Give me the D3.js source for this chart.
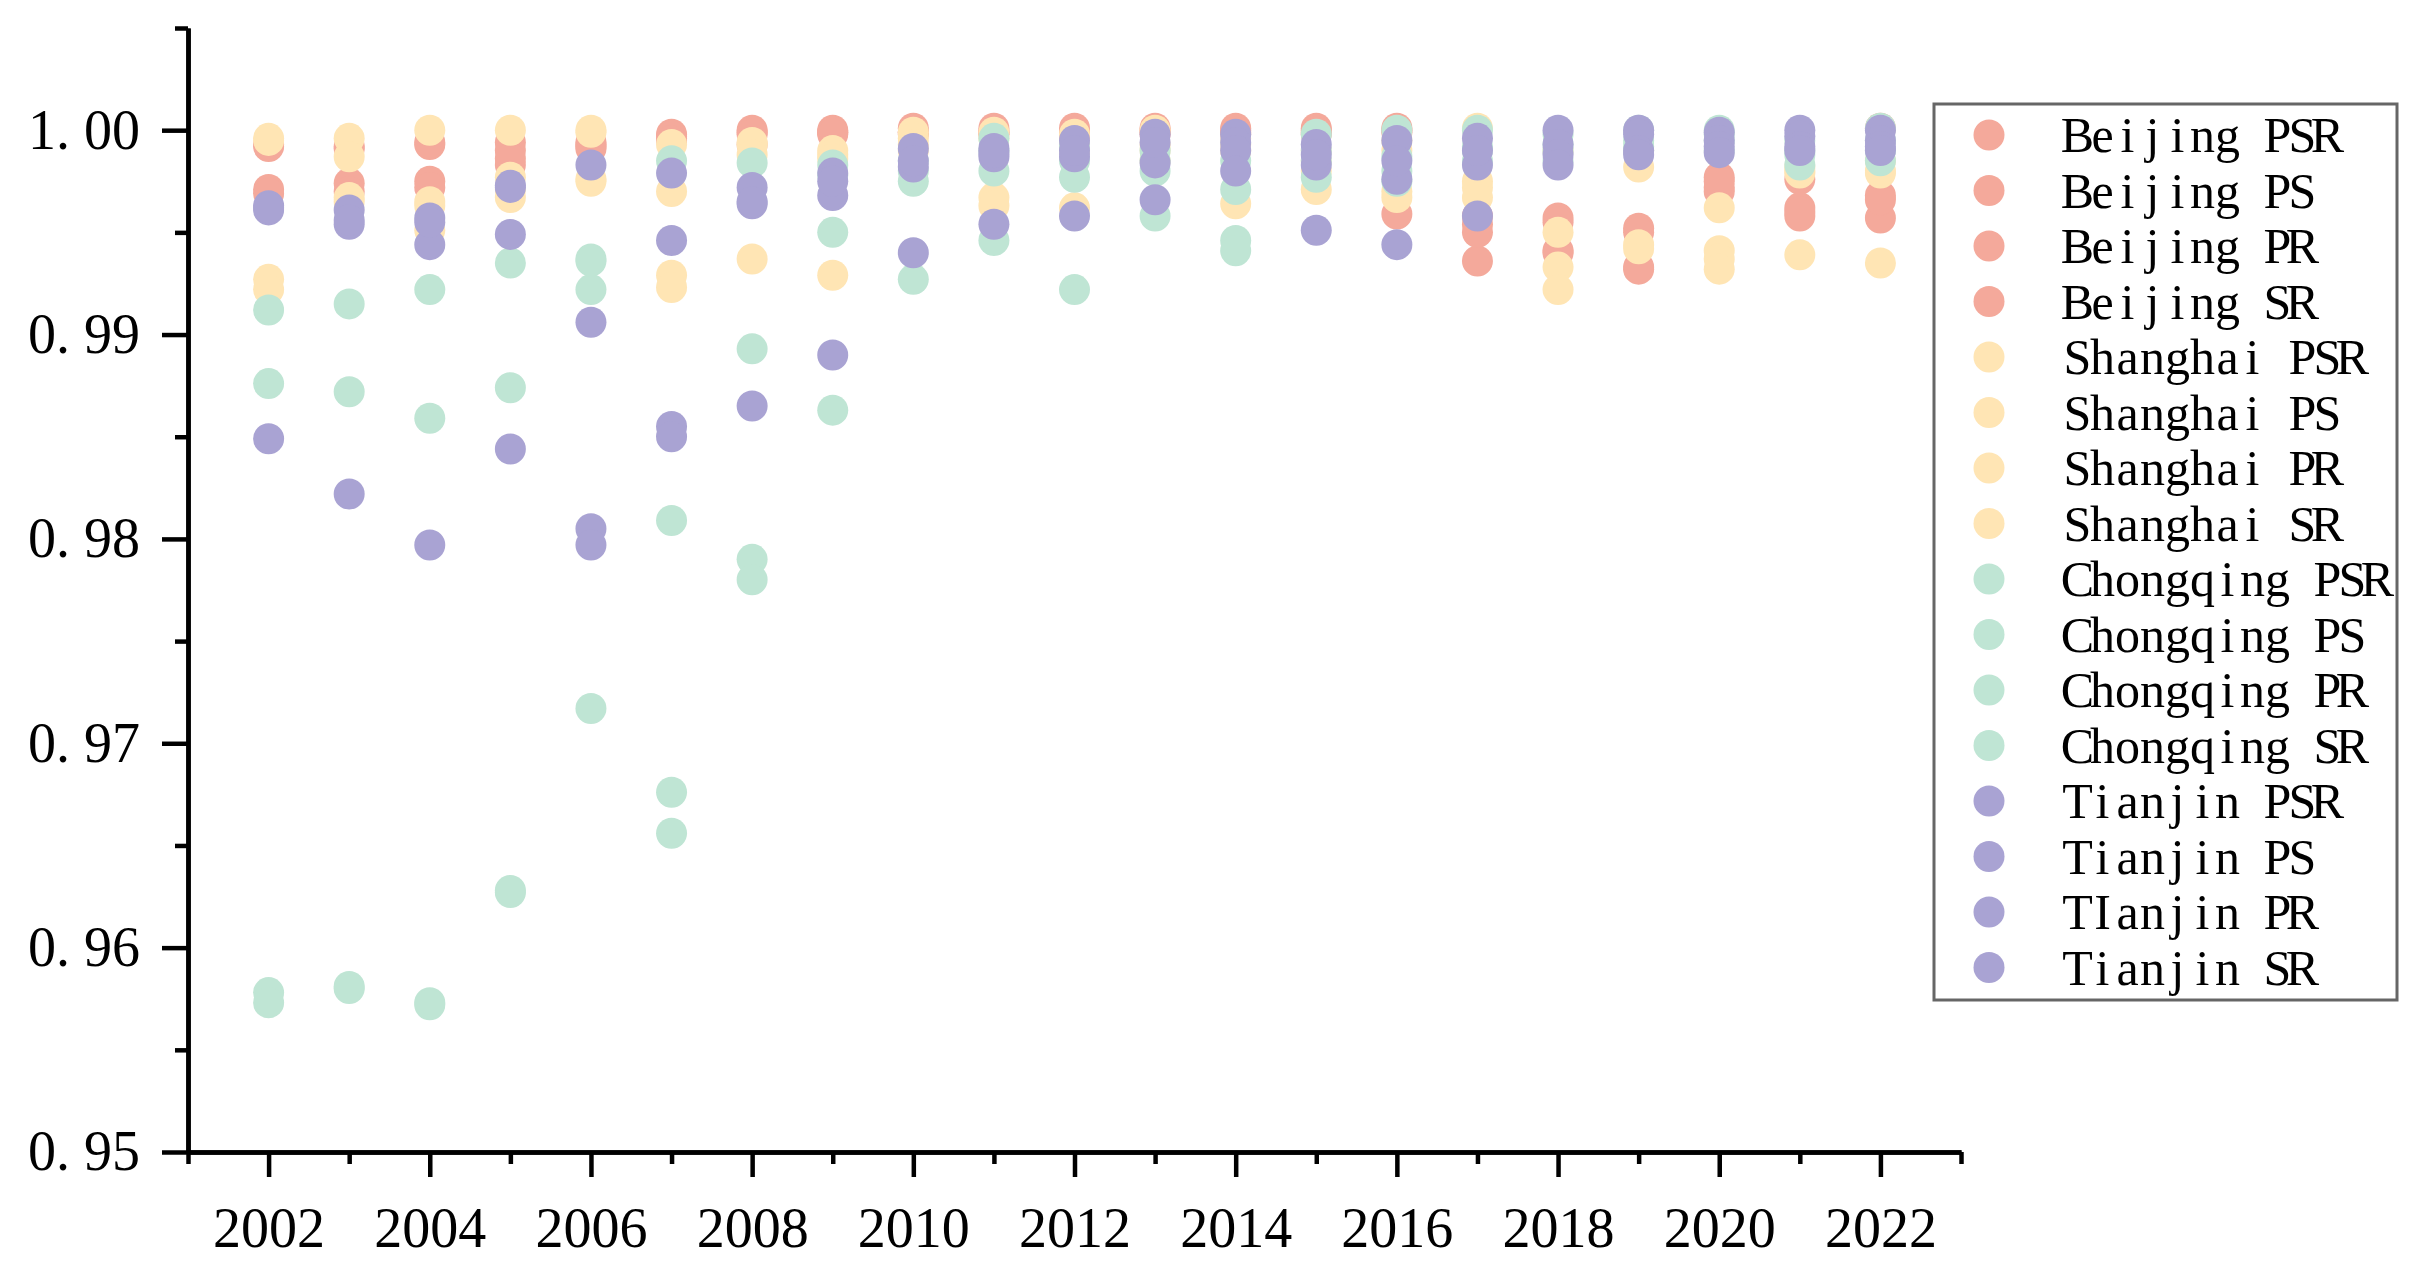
<!DOCTYPE html>
<html>
<head>
<meta charset="utf-8">
<script src="https://cdn.jsdelivr.net/npm/d3@7"></script>
<style>
  body { margin: 0; background: #fff; }
  svg { display: block; }
</style>
</head>
<body>
<div id="chart"></div>
<script>
const years = d3.range(2002, 2023);
const yTicks = [0.95, 0.96, 0.97, 0.98, 0.99, 1.00];
const yMinor = [0.955, 0.965, 0.975, 0.985, 0.995, 1.005];
const xTicks = [2002, 2004, 2006, 2008, 2010, 2012, 2014, 2016, 2018, 2020, 2022];
const xMinor = [2001, 2003, 2005, 2007, 2009, 2011, 2013, 2015, 2017, 2019, 2021, 2023];

// values, 2002..2022
const beijingPSR = [0.9993, 0.9992, 0.9994, 0.9994, 0.9994, 0.9998, 1.0000, 1.0000, 1.0001, 1.0001, 1.0001, 1.0001, 1.0001, 1.0001, 1.0001, 0.9954, 0.9957, 0.9952, 0.9977, 0.9976, 1.0001];
const beijingPS  = [0.9992, 0.9991, 0.9993, 0.9983, 0.9993, 0.9996, 0.9999, 0.9999, 0.9999, 0.9999, 0.9999, 1.0000, 1.0000, 1.0000, 0.9959, 0.9936, 0.9941, 0.9950, 0.9972, 0.9962, 0.9968];
const beijingPR  = [0.9971, 0.9974, 0.9975, 0.9990, 0.9992, 0.9997, 0.9998, 0.9999, 0.9998, 0.9999, 0.9998, 0.9999, 0.9999, 0.9999, 1.0000, 0.9958, 0.9955, 0.9933, 0.9970, 0.9958, 0.9957];
const beijingSR  = [0.9969, 0.9970, 0.9972, 0.9986, 0.9991, 0.9995, 0.9993, 0.9998, 0.9999, 0.9998, 0.9997, 0.9998, 0.9998, 0.9998, 0.9999, 0.9950, 0.9940, 0.9932, 0.9975, 0.9960, 0.9966];

const shanghaiPSR = [0.9996, 0.9996, 1.0000, 1.0000, 1.0000, 0.9993, 0.9994, 0.9990, 0.9999, 0.9999, 0.9998, 1.0000, 0.9996, 0.9990, 0.9995, 1.0001, 0.9990, 0.9990, 0.9962, 0.9982, 0.9985];
const shanghaiPS  = [0.9995, 0.9987, 0.9965, 0.9977, 0.9999, 0.9970, 0.9993, 0.9988, 0.9996, 0.9996, 0.9993, 0.9993, 0.9993, 0.9985, 0.9990, 0.9975, 0.9950, 0.9982, 0.9941, 0.9980, 0.9980];
const shanghaiPR  = [0.9927, 0.9967, 0.9963, 0.9971, 0.9976, 0.9929, 0.9988, 0.9986, 0.9993, 0.9967, 0.9990, 0.9990, 0.9990, 0.9980, 0.9970, 0.9972, 0.9933, 0.9944, 0.9937, 0.9979, 0.9979];
const shanghaiSR  = [0.9922, 0.9965, 0.9951, 0.9967, 0.9975, 0.9923, 0.9937, 0.9929, 0.9990, 0.9963, 0.9962, 0.9985, 0.9964, 0.9971, 0.9967, 0.9967, 0.9922, 0.9942, 0.9932, 0.9939, 0.9935];

const chongqingPSR = [0.9912, 0.9915, 0.9922, 0.9935, 0.9937, 0.9985, 0.9984, 0.9983, 0.9985, 0.9996, 0.9992, 0.9990, 0.9985, 0.9998, 1.0000, 1.0000, 0.9998, 1.0000, 1.0000, 0.9995, 1.0001];
const chongqingPS  = [0.9876, 0.9872, 0.9859, 0.9874, 0.9922, 0.9809, 0.9893, 0.9950, 0.9975, 0.9980, 0.9985, 0.9985, 0.9971, 0.9990, 0.9987, 0.9992, 0.9993, 0.9995, 0.9998, 0.9990, 0.9995];
const chongqingPR  = [0.9578, 0.9581, 0.9573, 0.9628, 0.9717, 0.9676, 0.9790, 0.9863, 0.9927, 0.9946, 0.9977, 0.9980, 0.9946, 0.9985, 0.9980, 0.9990, 0.9990, 0.9992, 0.9995, 0.9988, 0.9990];
const chongqingSR  = [0.9573, 0.9580, 0.9572, 0.9627, 0.9936, 0.9656, 0.9780, 0.9978, 0.9980, 0.9990, 0.9922, 0.9958, 0.9941, 0.9977, 0.9975, 0.9985, 0.9985, 0.9990, 0.9990, 0.9983, 0.9985];

const tianjinPSR = [0.9963, 0.9961, 0.9957, 0.9973, 0.9983, 0.9979, 0.9972, 0.9979, 0.9991, 0.9991, 0.9995, 0.9998, 0.9998, 0.9993, 0.9995, 0.9996, 1.0000, 1.0000, 0.9999, 1.0000, 1.0000];
const tianjinPS  = [0.9961, 0.9954, 0.9944, 0.9949, 0.9906, 0.9946, 0.9964, 0.9968, 0.9982, 0.9987, 0.9987, 0.9984, 0.9994, 0.9983, 0.9976, 0.9983, 0.9993, 0.9998, 0.9995, 0.9997, 0.9995];
const tianjinPR  = [0.9962, 0.9956, 0.9955, 0.9972, 0.9805, 0.9855, 0.9965, 0.9975, 0.9985, 0.9989, 0.9990, 0.9994, 0.9990, 0.9988, 0.9985, 0.9990, 0.9988, 0.9990, 0.9992, 0.9992, 0.9992];
const tianjinSR  = [0.9849, 0.9822, 0.9797, 0.9844, 0.9797, 0.9850, 0.9865, 0.9890, 0.9940, 0.9954, 0.9958, 0.9966, 0.9980, 0.9951, 0.9944, 0.9958, 0.9983, 0.9988, 0.9989, 0.9990, 0.9990];

const seriesNames = ['Beijing PSR', 'Beijing PS', 'Beijing PR', 'Beijing SR',
  'Shanghai PSR', 'Shanghai PS', 'Shanghai PR', 'Shanghai SR',
  'Chongqing PSR', 'Chongqing PS', 'Chongqing PR', 'Chongqing SR',
  'Tianjin PSR', 'Tianjin PS', 'TIanjin PR', 'Tianjin SR'];
const seriesValues = [beijingPSR, beijingPS, beijingPR, beijingSR,
  shanghaiPSR, shanghaiPS, shanghaiPR, shanghaiSR,
  chongqingPSR, chongqingPS, chongqingPR, chongqingSR,
  tianjinPSR, tianjinPS, tianjinPR, tianjinSR];
const cityColors = ['#f4a99b', '#ffe5b4', '#bfe5d4', '#a9a3d3'];

const W = 2433, H = 1288;
const svg = d3.select('#chart').append('svg').attr('width', W).attr('height', H);

const x = d3.scaleLinear().domain([2001, 2023]).range([188, 1961]);
const y = d3.scaleLinear().domain([0.95, 1.005]).range([1152, 28]);

const serif = '"Liberation Serif", "DejaVu Serif", serif';

// points, drawn in legend order so Tianjin ends on top
seriesValues.forEach((vals, i) => {
  svg.append('g')
    .selectAll('circle')
    .data(vals)
    .join('circle')
    .attr('cx', (d, j) => x(years[j]))
    .attr('cy', d => y(d))
    .attr('r', 15.5)
    .attr('fill', cityColors[Math.floor(i / 4)]);
});

// y axis
const yMinorG = svg.append('g').attr('transform', 'translate(188,0)')
  .call(d3.axisLeft(y).tickValues(yMinor).tickSize(13).tickSizeOuter(0).tickFormat(''));
const yAxisG = svg.append('g').attr('transform', 'translate(188,0)')
  .call(d3.axisLeft(y).tickValues(yTicks).tickSize(26).tickSizeOuter(0).tickPadding(22));

// x axis
const xMinorG = svg.append('g').attr('transform', 'translate(0,1152)')
  .call(d3.axisBottom(x).tickValues(xMinor).tickSize(12).tickSizeOuter(0).tickFormat(''));
const xAxisG = svg.append('g').attr('transform', 'translate(0,1152)')
  .call(d3.axisBottom(x).tickValues(xTicks).tickSize(25).tickSizeOuter(0).tickPadding(30).tickFormat(d3.format('d')));

[yMinorG, yAxisG, xMinorG, xAxisG].forEach(g => {
  g.selectAll('path.domain').attr('stroke', '#000').attr('stroke-width', 4.5);
  g.selectAll('.tick line').attr('stroke', '#000').attr('stroke-width', 4.5);
  g.selectAll('text').attr('font-family', serif).attr('font-size', 56).attr('fill', '#000');
});

// y labels: wide gap after the point, like the source font
yAxisG.selectAll('.tick text').each(function(d) {
  const s = d3.format('.2f')(d).split('.');
  const t = d3.select(this).text(null);
  t.append('tspan').text(s[0] + '.');
  t.append('tspan').attr('dx', '0.25em').text(s[1]);
});

// legend
const legend = svg.append('g');
legend.append('rect')
  .attr('x', 1934).attr('y', 104).attr('width', 463).attr('height', 896)
  .attr('fill', '#fff').attr('stroke', '#666').attr('stroke-width', 3);
const items = legend.selectAll('g.item')
  .data(seriesNames)
  .join('g')
  .attr('class', 'item')
  .attr('transform', (d, i) => `translate(0,${135 + i * 55.5})`);
items.append('circle')
  .attr('cx', 1989).attr('cy', 0).attr('r', 15.5)
  .attr('fill', (d, i) => cityColors[Math.floor(i / 4)]);
// serif glyphs set on a fixed 25px cell, so the names read monospaced
const cell = 25;
items.append('text')
  .attr('x', d => Array.from(d, (c, k) => 2065 + cell / 2 + k * cell).join(' '))
  .attr('y', 17)
  .attr('text-anchor', 'middle')
  .attr('font-family', serif)
  .attr('font-size', 50)
  .attr('fill', '#000')
  .text(d => d);
</script>
</body>
</html>
